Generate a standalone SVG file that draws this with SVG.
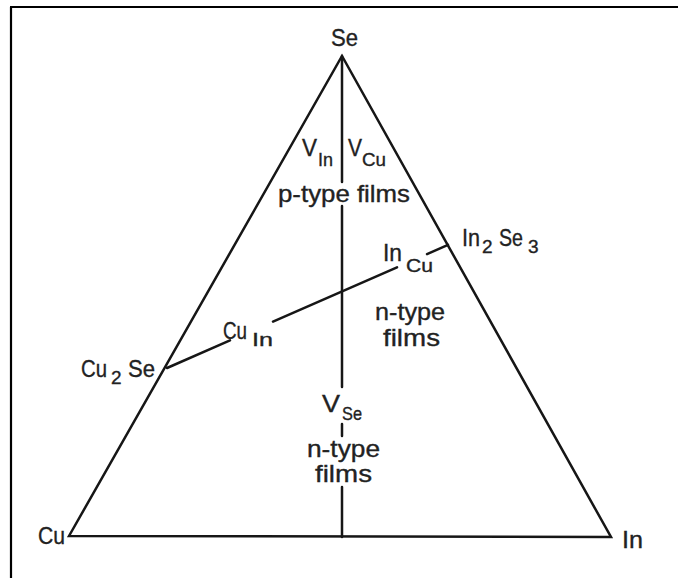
<svg xmlns="http://www.w3.org/2000/svg" width="678" height="578" viewBox="0 0 678 578">
<style>
.ln{stroke:#161616;stroke-width:2.5;fill:none;stroke-linecap:round;stroke-linejoin:miter}
.bd{stroke:#000;stroke-width:2.2;fill:none}
text{font-family:"Liberation Sans","DejaVu Sans",Arial,sans-serif;fill:#222;stroke:#222;stroke-width:0.35;font-size:24px}
.sub{font-size:19px}
</style>
<rect width="678" height="578" fill="#fff"/>
<g id="frame">
<path class="bd" d="M10 7H678M11 7V578"/>
</g>
<g id="connectors">
<path class="ln" d="M69 536L342 56L611 537Z"/>
<path class="ln" d="M342 56V182M342 206V387M342 424V436M342 487V537"/>
<path class="ln" d="M167 368L230 340.4M273 321.6L397 267.3M427 254.1L448 244.9"/>
</g>
<g id="node-se"><text x="331" y="46" textLength="27" lengthAdjust="spacingAndGlyphs">Se</text></g>
<g id="node-cu"><text x="38" y="544" font-size="26" textLength="27" lengthAdjust="spacingAndGlyphs">Cu</text></g>
<g id="node-in"><text x="622" y="548" font-size="28" textLength="21" lengthAdjust="spacingAndGlyphs">In</text></g>
<g id="node-vin"><text x="302" y="156" font-size="21" textLength="15" lengthAdjust="spacingAndGlyphs">V</text><text class="sub" x="318" y="166" textLength="15" lengthAdjust="spacingAndGlyphs">In</text></g>
<g id="node-vcu"><text x="348" y="156" font-size="21" textLength="14" lengthAdjust="spacingAndGlyphs">V</text><text class="sub" x="362" y="166" textLength="24" lengthAdjust="spacingAndGlyphs">Cu</text></g>
<g id="node-ptype"><text x="278" y="202" textLength="132" lengthAdjust="spacingAndGlyphs">p-type films</text></g>
<g id="node-incu"><text x="383" y="261" font-size="25" textLength="19" lengthAdjust="spacingAndGlyphs">In</text><text class="sub" x="406" y="272" font-size="18" textLength="27" lengthAdjust="spacingAndGlyphs">Cu</text></g>
<g id="node-in2se3"><text x="462" y="246" font-size="25" textLength="18" lengthAdjust="spacingAndGlyphs">In</text><text class="sub" x="482" y="253" font-size="18">2</text><text x="499" y="246" font-size="25" textLength="24" lengthAdjust="spacingAndGlyphs">Se</text><text class="sub" x="528" y="253" font-size="18">3</text></g>
<g id="node-cuin"><text x="223" y="339" textLength="24" lengthAdjust="spacingAndGlyphs">Cu</text><text class="sub" x="252" y="346" font-size="20" textLength="21" lengthAdjust="spacingAndGlyphs">In</text></g>
<g id="node-cu2se"><text x="81" y="377" font-size="22" textLength="26" lengthAdjust="spacingAndGlyphs">Cu</text><text class="sub" x="111" y="384" font-size="16">2</text><text x="128" y="377" textLength="27" lengthAdjust="spacingAndGlyphs">Se</text></g>
<g id="node-ntype-right"><text x="375" y="320" textLength="70" lengthAdjust="spacingAndGlyphs">n-type</text><text x="383" y="346" textLength="57" lengthAdjust="spacingAndGlyphs">films</text></g>
<g id="node-vse"><text x="322" y="412" font-size="26" textLength="18" lengthAdjust="spacingAndGlyphs">V</text><text class="sub" x="342" y="420" font-size="17" textLength="20" lengthAdjust="spacingAndGlyphs">Se</text></g>
<g id="node-ntype-low"><text x="307" y="457" textLength="73" lengthAdjust="spacingAndGlyphs">n-type</text><text x="315" y="482" textLength="57" lengthAdjust="spacingAndGlyphs">films</text></g>
</svg>
